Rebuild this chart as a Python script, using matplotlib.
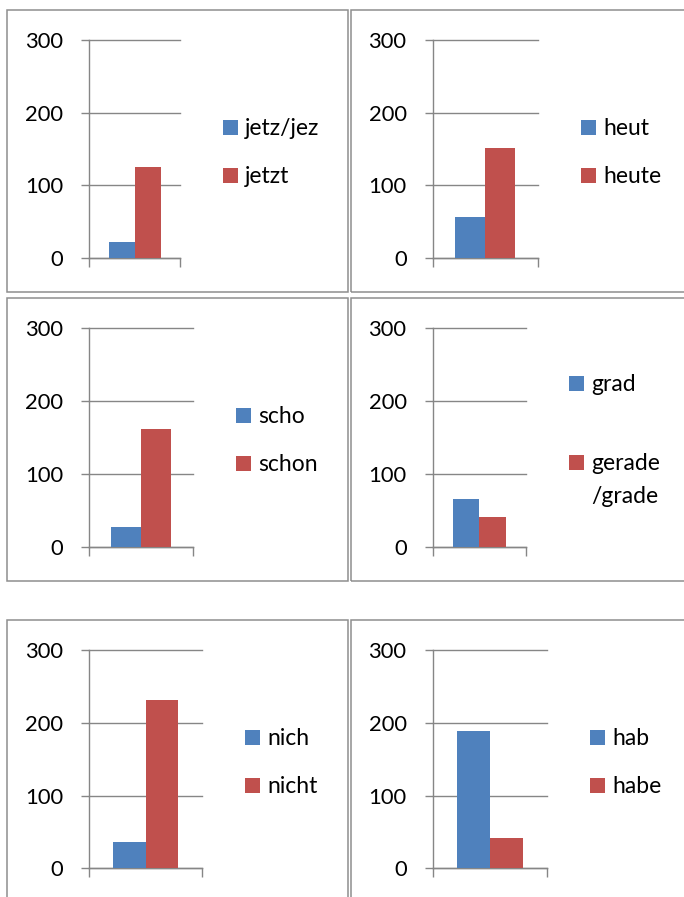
import matplotlib
matplotlib.use("Agg")
import matplotlib.pyplot as plt
from matplotlib.patches import Rectangle

plt.rcParams['font.family'] = ['Lato', 'DejaVu Sans']

# ---------------- data ----------------
short_labels = ["jetz/jez", "heut", "scho", "grad", "nich", "hab"]
long_labels = ["jetzt", "heute", "schon", "gerade\n/grade", "nicht", "habe"]
short_values = [22, 57, 27, 65, 36, 189]
long_values = [125, 152, 162, 41, 232, 42]
y_ticks = [0, 100, 200, 300]

# ---------------- style ----------------
W, H = 684, 897
BLUE = "#4F81BD"
RED = "#C0504D"
GRID = "#868686"
BORDER = "#8E8E8E"
FS_TICK = 15.8
FS_LEG = 16.5

fig = plt.figure(figsize=(W / 100, H / 100), dpi=100)


def fx(x):
    return x / W


def fy(y):
    return 1 - y / H


# panel borders (pixel coords: left, top, right, bottom)
boxes = [
    (7, 10.5, 347.5, 292.5), (350.5, 10.5, 700, 292.5),
    (7, 297.7, 347.5, 581), (350.5, 297.7, 700, 581),
    (7, 620.3, 347.5, 920), (350.5, 620.3, 700, 920),
]
for (l, t, r, b) in boxes:
    fig.add_artist(Rectangle((fx(l), fy(b)), fx(r) - fx(l), fy(t) - fy(b),
                             transform=fig.transFigure, fill=False,
                             edgecolor=BORDER, linewidth=1.1, clip_on=False))

# axes frames in pixels: x_left, x_right, y_top(300), y_zero
frames = [
    (89, 180, 40, 258), (432.7, 537.7, 40, 258),
    (89, 193, 328.3, 546.7), (432.7, 525.7, 328.3, 546.7),
    (89, 202, 650.3, 868.3), (432.7, 547.3, 650.3, 868.3),
]
# legend square left x, bottom y of first and second entry
legend_pos = [
    (223, 135, 183), (581, 135, 183),
    (236, 422.7, 471), (569, 390.7, 470.3),
    (245, 745, 793.3), (590, 745, 793.3),
]

bw = 1 / 3.5
for i in range(6):
    xl, xr, yt, yz = frames[i]
    ax = fig.add_axes([fx(xl), fy(yz), (xr - xl) / W, (yz - yt) / H])
    ax.set_axisbelow(True)
    ax.bar([-bw / 2], [short_values[i]], width=bw, color=BLUE, zorder=3)
    ax.bar([bw / 2], [long_values[i]], width=bw, color=RED, zorder=3)
    ax.set_xlim(-0.5, 0.5)
    ax.set_ylim(0, 300)
    ax.set_yticks(y_ticks)
    ax.set_xticks([-0.5, 0.5])
    ax.set_xticklabels([])
    ax.tick_params(axis='y', direction='out', length=5.8, width=1.0,
                   color=GRID, labelsize=FS_TICK, pad=13.0, labelcolor='black')
    ax.tick_params(axis='x', direction='out', length=6.2, width=1.0,
                   color=GRID)
    for s in ['top', 'right']:
        ax.spines[s].set_visible(False)
    for s in ['left', 'bottom']:
        ax.spines[s].set_color(GRID)
        ax.spines[s].set_linewidth(1.0)
    ax.yaxis.grid(True, color=GRID, linewidth=1.0)
    for gl in ax.get_ygridlines():
        gl.set_clip_on(False)
    ax.patch.set_alpha(0)

    # legend
    lx, b1, b2 = legend_pos[i]
    for lab, col, yb in [(short_labels[i], BLUE, b1), (long_labels[i], RED, b2)]:
        fig.add_artist(Rectangle((fx(lx), fy(yb)), 15 / W, 15 / H,
                                 transform=fig.transFigure, facecolor=col,
                                 edgecolor='none'))
        for k, line in enumerate(lab.split("\n")):
            fig.text(fx(lx + 22), fy(yb + k * 33), line, fontsize=FS_LEG,
                     va='baseline', ha='left', color='black')

fig.savefig("out.png", dpi=100)
